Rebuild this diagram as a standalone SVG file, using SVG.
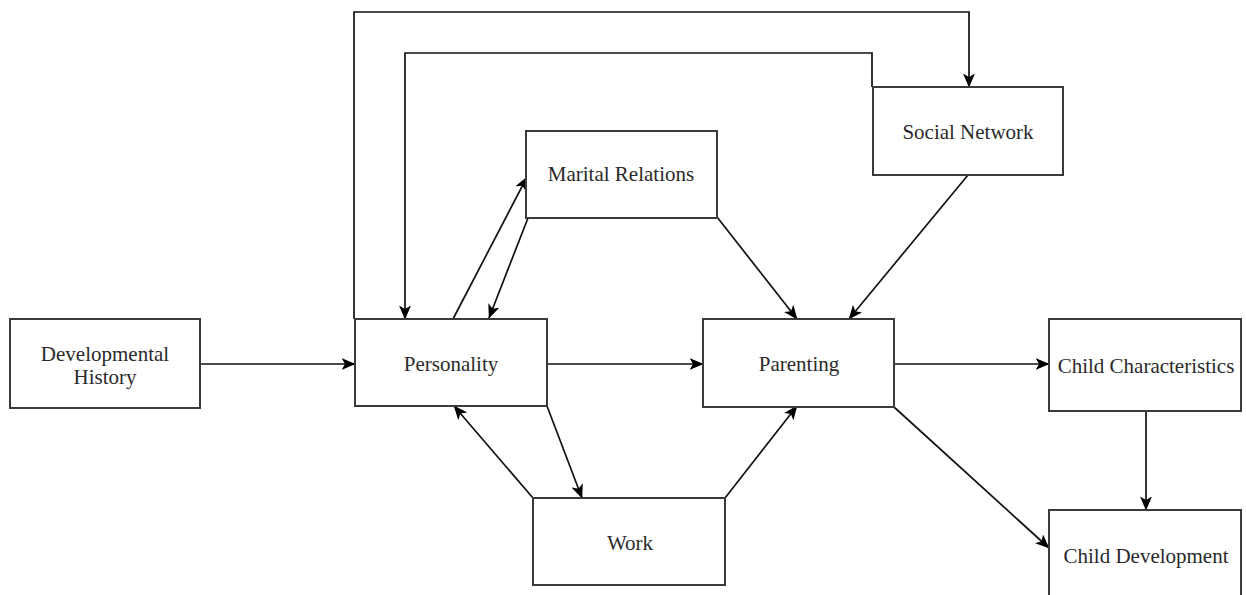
<svg xmlns="http://www.w3.org/2000/svg" width="1246" height="595" viewBox="0 0 1246 595">
  <style>
    .box { fill: #ffffff; stroke: #3a3a3a; stroke-width: 2; }
    .lbl { font-family: "Liberation Serif", "Times New Roman", serif; font-size: 21px; fill: #2a2a2a; text-anchor: middle; }
    .edge { fill: none; stroke: #111111; stroke-width: 1.7; marker-end: url(#arrow); }
  </style>
  <defs>
    <marker id="arrow" viewBox="0 0 14 12" refX="13.5" refY="6" markerWidth="14" markerHeight="12" markerUnits="userSpaceOnUse" orient="auto">
      <path d="M0,0 L14,6 L0,12 L3.5,6 Z" fill="#000000"/>
    </marker>
  </defs>
  <rect width="1246" height="595" fill="#ffffff"/>

  <g id="connectors">
    <path class="edge" d="M200,364 H355"/>
    <path class="edge" d="M547,364 H703"/>
    <path class="edge" d="M894,364 H1049"/>
    <path class="edge" d="M1146,411 V510"/>
    <path class="edge" d="M894,407 L1049,548"/>
    <path class="edge" d="M717,217 L797,319"/>
    <path class="edge" d="M968,175 L849,319"/>
    <path class="edge" d="M453,319 L527,177"/>
    <path class="edge" d="M528,218 L489,318"/>
    <path class="edge" d="M547,406 L582,498"/>
    <path class="edge" d="M533,498 L454,406"/>
    <path class="edge" d="M725,498 L797,406"/>
    <path class="edge" d="M354,319 V12 H969 V87"/>
    <path class="edge" d="M872,87 V53 H405 V319"/>
  </g>

  <g id="developmental-history">
    <rect class="box" x="10" y="319" width="190" height="89"/>
    <text class="lbl" x="105" y="361">Developmental</text>
    <text class="lbl" x="105" y="384">History</text>
  </g>
  <g id="personality">
    <rect class="box" x="355" y="319" width="192" height="87"/>
    <text class="lbl" x="451" y="371">Personality</text>
  </g>
  <g id="marital-relations">
    <rect class="box" x="526" y="131" width="191" height="87"/>
    <text class="lbl" x="621" y="181">Marital Relations</text>
  </g>
  <g id="social-network">
    <rect class="box" x="873" y="87" width="190" height="88"/>
    <text class="lbl" x="968" y="139">Social Network</text>
  </g>
  <g id="parenting">
    <rect class="box" x="703" y="319" width="191" height="88"/>
    <text class="lbl" x="799" y="371">Parenting</text>
  </g>
  <g id="work">
    <rect class="box" x="533" y="498" width="192" height="87"/>
    <text class="lbl" x="630" y="550">Work</text>
  </g>
  <g id="child-characteristics">
    <rect class="box" x="1049" y="319" width="192" height="92"/>
    <text class="lbl" x="1146" y="373">Child Characteristics</text>
  </g>
  <g id="child-development">
    <rect class="box" x="1049" y="510" width="192" height="100"/>
    <text class="lbl" x="1146" y="563">Child Development</text>
  </g>
</svg>
